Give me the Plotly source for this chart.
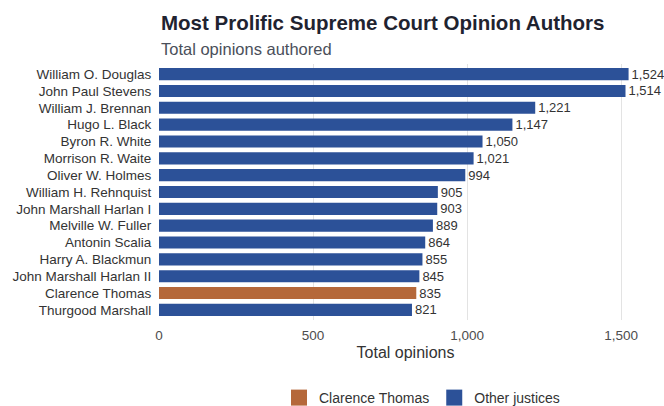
import plotly.graph_objects as go

justices = ["William O. Douglas", "John Paul Stevens", "William J. Brennan", "Hugo L. Black",
            "Byron R. White", "Morrison R. Waite", "Oliver W. Holmes", "William H. Rehnquist",
            "John Marshall Harlan I", "Melville W. Fuller", "Antonin Scalia", "Harry A. Blackmun",
            "John Marshall Harlan II", "Clarence Thomas", "Thurgood Marshall"]
opinions = [1524, 1514, 1221, 1147, 1050, 1021, 994, 905, 903, 889, 864, 855, 845, 835, 821]
highlight = "Clarence Thomas"

BLUE = "#2C5198"
ORANGE = "#B5683A"

fig = go.Figure()
for name, color, sel in [("Clarence Thomas", ORANGE, True), ("Other justices", BLUE, False)]:
    ys = [j for j, v in zip(justices, opinions) if (j == highlight) == sel]
    xs = [v for j, v in zip(justices, opinions) if (j == highlight) == sel]
    fig.add_trace(go.Bar(
        x=xs, y=ys, orientation="h", name=name, marker=dict(color=color, line=dict(width=0)),
        width=0.72, text=[f"{v:,}" for v in xs], textposition="outside", constraintext="none",
        textfont=dict(size=13, color="#333333"), cliponaxis=False, showlegend=False,
        legendgroup=name, hovertemplate="%{y}: %{x:,}<extra></extra>"))
    # legend key with larger square swatch
    fig.add_trace(go.Scatter(
        x=[None], y=[None], mode="markers", name=name, legendgroup=name,
        marker=dict(symbol="square", size=17, color=color), hoverinfo="skip"))

fig.update_layout(
    width=664, height=406, barmode="overlay",
    margin=dict(l=159, r=12, t=64, b=86),
    paper_bgcolor="white", plot_bgcolor="white",
    font=dict(family="Liberation Sans, Arial, sans-serif", size=13, color="#333333"),
    xaxis=dict(range=[0, 1600], tickvals=[0, 500, 1000, 1500], ticktext=["0", "500", "1,000", "1,500"],
               showgrid=True, gridcolor="#E3E3E3", gridwidth=1, zeroline=False, showline=False,
               ticks="outside", ticklen=3, tickcolor="rgba(0,0,0,0)", automargin=False,
               tickfont=dict(size=13.5, color="#4D4D4D"),
               title=dict(text="Total opinions", font=dict(size=16, color="#333333"), standoff=4)),
    yaxis=dict(categoryorder="array", categoryarray=justices, range=[14.6, -0.6],
               tickmode="array", tickvals=justices, automargin=False,
               showgrid=False, zeroline=False, ticks="outside", ticklen=4, tickcolor="rgba(0,0,0,0)",
               tickfont=dict(size=13.5, color="#333333")),
    legend=dict(orientation="h", x=(422 - 159) / 493, xanchor="center", xref="paper",
                y=8 / 406, yanchor="middle", yref="container", itemwidth=30,
                font=dict(size=14, color="#333333"), traceorder="normal"),
    showlegend=True,
)
fig.add_annotation(text="<b>Most Prolific Supreme Court Opinion Authors</b>", xref="paper", yref="paper",
                   x=0, y=1, yshift=42, xanchor="left", yanchor="middle", showarrow=False,
                   font=dict(size=20.5, color="#1F2330"))
fig.add_annotation(text="Total opinions authored", xref="paper", yref="paper",
                   x=0, y=1, yshift=15, xanchor="left", yanchor="middle", showarrow=False,
                   font=dict(size=16.5, color="#4A4F5A"))
fig.write_html("out.html")
